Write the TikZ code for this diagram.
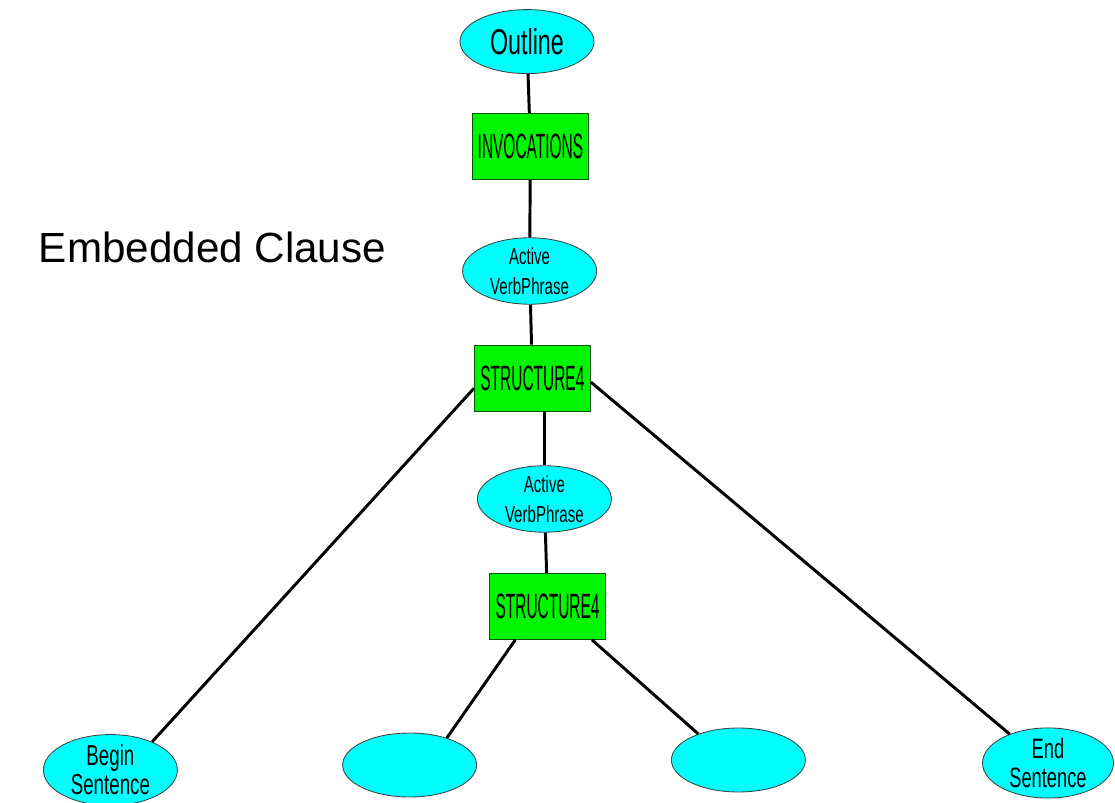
\documentclass[tikz,border=0pt]{standalone}
\usepackage{fontspec}
\setmainfont{Liberation Sans}
\newfontfamily\bullefont[FakeStretch=0.65]{Liberation Sans}
\newfontfamily\blocfont[FakeStretch=0.44]{Liberation Sans}
\usepackage{tikz}
\usetikzlibrary{shapes}
\definecolor{cyanfill}{RGB}{0,255,255}
\definecolor{vertfill}{RGB}{0,245,0}
\tikzstyle{bulle}=[ellipse,draw=black!75,fill=cyanfill,line width=0.6pt,
minimum width=3.35cm,minimum height=1.6cm,inner sep=0pt,align=center,font=\bullefont]
\tikzstyle{bloc}=[rectangle,draw=green!35!black,fill=vertfill,line width=0.6pt,
minimum width=2.9cm,minimum height=1.65cm,inner sep=0pt,font=\blocfont\fontsize{25}{30}\selectfont]
\tikzstyle{trait}=[line width=2.1pt,black]

\begin{document}
\begin{tikzpicture}
\useasboundingbox (0,0) rectangle (27.875,-20.075);
\node[anchor=base west,font=\fontsize{30}{36}\selectfont] (titre) at (0.85,-6.575) {Embedded Clause};
\node[bulle,font=\bullefont\fontsize{25.5}{30}\selectfont] (a) at (13.175,-1.04) {Outline};
\node[bloc] (b) at (13.26,-3.66) {INVOCATIONS};
\node[bulle,font=\bullefont\fontsize{16.5}{21.3}\selectfont] (c) at (13.24,-6.775) {Active\\VerbPhrase};
\node[bloc] (d) at (13.31,-9.45) {STRUCTURE4};
\node[bulle,font=\bullefont\fontsize{16.5}{21.3}\selectfont] (e) at (13.61,-12.475) {Active\\VerbPhrase};
\node[bloc] (f) at (13.69,-15.16) {STRUCTURE4};
\node[bulle,minimum height=1.5cm,font=\bullefont\fontsize{20.5}{20.6}\selectfont] (g) at (2.76,-19.25) {Begin\\Sentence};
\node[bulle] (h) at (10.24,-19.125) {};
\node[bulle] (i) at (18.46,-19.0) {};
\node[bulle,minimum width=3.275cm,minimum height=1.5cm,font=\bullefont\fontsize{20}{20.6}\selectfont] (j) at (26.2,-19.075) {End\\Sentence};
%traits
\draw[trait] (a) -- (b);
\draw[trait] (b) -- (c);
\draw[trait] (c) -- (d);
\draw[trait] (e |- d.south) -- (e);
\draw[trait] (e) -- (f);
\draw[trait] (d.190) -- (g.34);
\draw[trait] (d.-4) -- (j.143);
\draw[trait] (f.-134) -- (h.36);
\draw[trait] (f.-37) -- (i.147);
\end{tikzpicture}
\end{document}
